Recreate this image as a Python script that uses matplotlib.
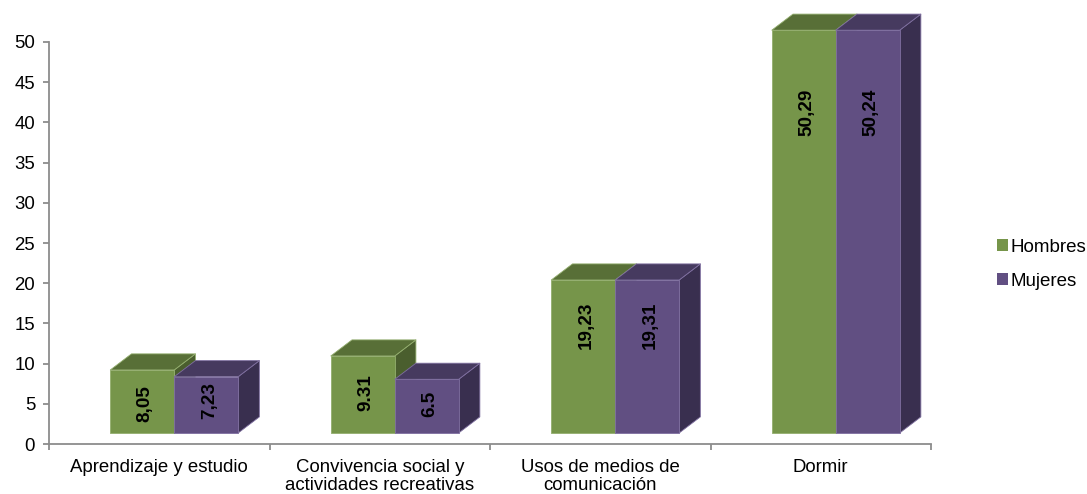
import matplotlib
matplotlib.use('Agg')
import matplotlib.pyplot as plt
import matplotlib.patches as mpatches
import numpy as np

plt.rcParams['font.family'] = ['Liberation Sans', 'DejaVu Sans']

categories = ['Aprendizaje y estudio', 'Convivencia social y\nactividades recreativas',
              'Usos de medios de\ncomunicación', 'Dormir']
# heights, the printed labels differ slightly
hombres = [7.84, 9.58, 19.03, 50.1]
mujeres = [7.0, 6.68, 19.03, 50.1]
hombres_labels = ['8,05', '9.31', '19,23', '50,29']
mujeres_labels = ['7,23', '6.5', '19,31', '50,24']
# the labels were placed by hand in the original
hombres_label_y = [4.98, 6.34, 14.8, 41.3]
mujeres_label_y = [5.35, 4.98, 14.8, 41.3]
series_names = ['Hombres', 'Mujeres']
yticks = [0, 5, 10, 15, 20, 25, 30, 35, 40, 45, 50]

green = {'front': '#76954A', 'top': '#586F37', 'side': '#4A5E2E', 'edge': '#93AE6E'}
purple = {'front': '#614F82', 'top': '#463A5F', 'side': '#392F4F', 'edge': '#7F6FA0'}
gray = '#8C8C8C'

W, H = 1087, 494
fig = plt.figure(figsize=(W / 100, H / 100), dpi=100)
ax = fig.add_axes([49 / W, 1 - 444 / H, 882 / W, 402 / H])
ax.set_xlim(0, 4)
ax.set_ylim(0, 50)

bar_w = 0.29
start = 0.278
base = 1.37   # the floor of the fake 3D box sits above the axis
dx = 0.096
dy = 2.0


def box3d(x, val, c, label, label_y, z):
    top = base + val
    edge = dict(edgecolor=c['edge'], linewidth=0.6, joinstyle='round', zorder=z, clip_on=False)
    ax.add_patch(mpatches.Polygon([(x + bar_w, base), (x + bar_w + dx, base + dy), (x + bar_w + dx, top + dy),
                                   (x + bar_w, top)], facecolor=c['side'], **edge))
    ax.add_patch(mpatches.Polygon([(x, top), (x + dx, top + dy), (x + bar_w + dx, top + dy), (x + bar_w, top)],
                                  facecolor=c['top'], **edge))
    ax.add_patch(mpatches.Rectangle((x, base), bar_w, val, facecolor=c['front'], **edge))
    ax.text(x + bar_w / 2 + 0.014, label_y, label, rotation=90, ha='center', va='center',
            fontsize=13.6, fontweight='bold', color='black', zorder=z + 0.5, clip_on=False)


for i in range(len(categories)):
    box3d(i + start, hombres[i], green, hombres_labels[i], hombres_label_y[i], 3 + i * 2)
    box3d(i + start + bar_w, mujeres[i], purple, mujeres_labels[i], mujeres_label_y[i], 4 + i * 2)

for s in ['top', 'right']:
    ax.spines[s].set_visible(False)
for s in ['left', 'bottom']:
    ax.spines[s].set_color(gray)
    ax.spines[s].set_linewidth(1.3)

ax.set_yticks(yticks)
ax.set_xticks(np.arange(len(categories) + 1))
ax.set_xticklabels([])
ax.set_xticks(np.arange(len(categories)) + 0.5, minor=True)
ax.set_xticklabels(categories, minor=True, linespacing=1.13)
ax.tick_params(axis='x', which='major', length=4, color=gray, width=1.3)
ax.tick_params(axis='x', which='minor', length=0, pad=10.5, labelsize=13.4, labelcolor='black')
ax.tick_params(axis='y', length=4, color=gray, width=1.3, labelsize=13.4, pad=6, labelcolor='black')

handles = [mpatches.Patch(facecolor=green['front'], label=series_names[0]),
           mpatches.Patch(facecolor=purple['front'], label=series_names[1])]
fig.legend(handles=handles, loc='center left', bbox_to_anchor=(997 / W, 1 - 264.5 / H), frameon=False,
           fontsize=13.5, handlelength=0.6, handleheight=0.6, handletextpad=0.12, labelspacing=0.9,
           borderpad=0, borderaxespad=0)

fig.savefig('out.png', dpi=100)
